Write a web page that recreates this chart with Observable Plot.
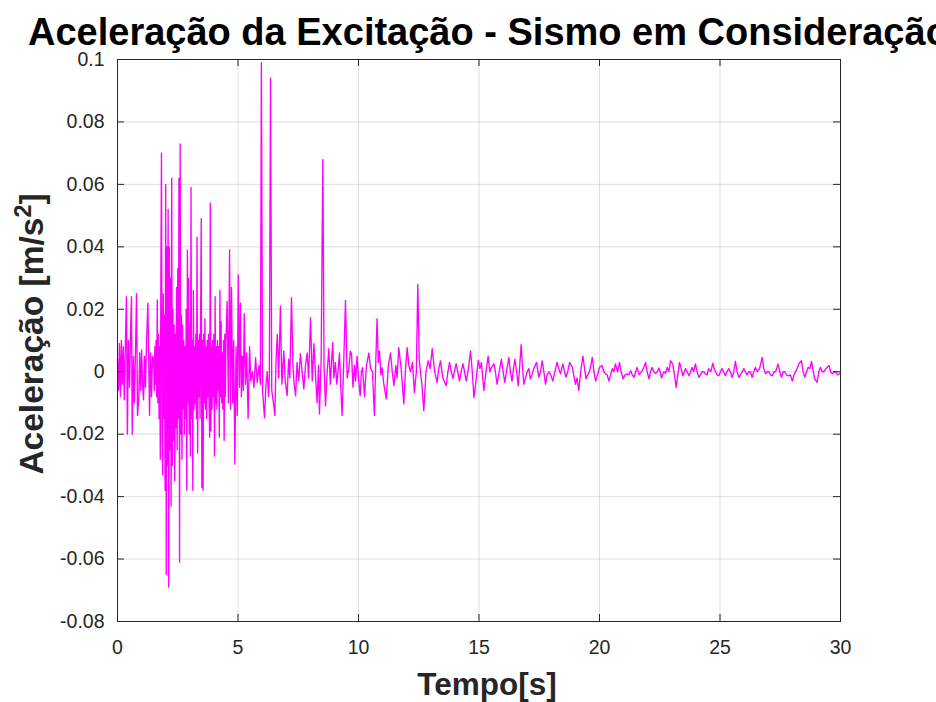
<!DOCTYPE html>
<html>
<head>
<meta charset="utf-8">
<script src="https://cdn.jsdelivr.net/npm/d3@7"></script>
<script src="https://cdn.jsdelivr.net/npm/@observablehq/plot@0.6"></script>
<style>
  html, body { margin: 0; padding: 0; background: white; }
  #chart { width: 936px; height: 702px; overflow: hidden; }
</style>
</head>
<body>
<div id="chart"></div>
<script>
// ---- data ----
const titleText = "Aceleração da Excitação - Sismo em Consideração";
const xLabel = "Tempo[s]";
const yLabelMain = "Aceleração [m/s";
const xTicks = [0, 5, 10, 15, 20, 25, 30];
const yTicks = [-0.08, -0.06, -0.04, -0.02, 0, 0.02, 0.04, 0.06, 0.08, 0.1];

// 0 – 1.45 s
const tempoInicio = [0.00,0.04,0.08,0.12,0.16,0.20,0.24,0.28,0.32,0.37,0.41,0.45,0.50,0.54,0.58,0.61,0.66,0.70,0.75,0.79,0.83,0.88,0.92,0.96,1.00,1.04,1.08,1.12,1.16,1.20,1.26,1.33,1.37,1.41,1.45];
const acelInicio  = [0.004,-0.006,0.009,-0.008,0.010,-0.004,0.008,-0.009,0.006,0.024,-0.020,0.010,-0.005,0.012,0.024,-0.020,0.005,-0.010,0.008,0.025,-0.014,-0.009,0.006,-0.006,0.007,-0.004,-0.009,0.005,-0.005,0.008,0.022,-0.014,0.006,-0.008,0.005];

// strong motion 1.5 – 4.475 s, sampled every 0.025 s
const denseStart = 1.5;
const denseStep = 0.025;
const acelForte = [
  0.004,-0.006,0.008,-0.004,0.010,-0.008,0.023,-0.010,0.012,-0.015,
  0.008,-0.028,0.030,0.070,-0.020,-0.033,0.025,-0.015,0.018,-0.038,
  0.060,-0.065,0.040,-0.030,0.052,-0.069,0.040,-0.025,0.030,-0.043,
  0.062,-0.030,0.020,-0.022,0.015,-0.035,0.012,-0.018,0.027,-0.025,
  0.033,-0.015,0.062,-0.061,0.073,-0.020,0.018,-0.028,0.015,-0.012,
  0.010,-0.020,0.008,-0.015,0.020,-0.038,0.039,-0.010,0.030,-0.020,
  0.015,-0.027,0.059,-0.015,0.010,-0.038,0.026,-0.012,0.008,-0.010,
  0.012,-0.015,0.043,-0.026,0.010,-0.008,0.012,-0.015,0.020,0.049,
  -0.037,0.010,-0.038,0.012,-0.010,0.017,-0.012,0.008,-0.015,0.010,
  -0.008,0.012,-0.010,-0.021,0.054,-0.019,0.008,-0.012,0.010,-0.008,
  0.012,-0.027,0.024,-0.010,0.008,-0.012,0.010,-0.006,0.008,-0.021,
  0.026,-0.008,0.016,-0.010,0.006,-0.012,0.010,-0.022,0.012,-0.008
];

// 4.5 – 30 s
const tempoFim = [4.50,4.55,4.60,4.65,4.69,4.73,4.78,4.82,4.87,4.92,4.97,5.01,5.06,5.10,5.14,5.18,5.22,5.26,5.31,5.36,5.42,5.48,5.53,5.60,5.66,5.73,5.80,5.87,5.93,5.97,6.02,6.10,6.16,6.21,6.27,6.30,6.35,6.40,6.47,6.53,6.58,6.63,6.69,6.76,6.82,6.90,6.96,7.04,7.10,7.15,7.22,7.28,7.33,7.39,7.45,7.52,7.59,7.66,7.73,7.80,7.87,7.93,8.01,8.08,8.15,8.21,8.28,8.34,8.38,8.45,8.52,8.57,8.63,8.70,8.77,8.83,8.88,8.93,8.98,9.04,9.10,9.16,9.21,9.27,9.32,9.39,9.46,9.53,9.60,9.66,9.71,9.77,9.83,9.88,9.94,10.00,10.07,10.12,10.17,10.25,10.33,10.43,10.50,10.58,10.66,10.72,10.77,10.82,10.87,10.93,10.98,11.05,11.15,11.24,11.33,11.40,11.47,11.55,11.60,11.67,11.77,11.88,11.95,12.02,12.09,12.16,12.24,12.32,12.40,12.46,12.52,12.57,12.63,12.71,12.80,12.89,12.97,13.06,13.16,13.26,13.33,13.40,13.50,13.64,13.71,13.78,13.85,13.92,14.05,14.12,14.19,14.26,14.33,14.40,14.47,14.56,14.65,14.72,14.79,14.86,14.97,15.04,15.10,15.20,15.29,15.38,15.45,15.52,15.62,15.68,15.75,15.84,15.93,16.00,16.07,16.16,16.24,16.30,16.37,16.43,16.49,16.56,16.63,16.69,16.75,16.80,16.86,16.93,17.00,17.07,17.13,17.20,17.27,17.39,17.48,17.55,17.62,17.69,17.76,17.83,17.90,17.98,18.06,18.15,18.24,18.31,18.38,18.48,18.55,18.61,18.68,18.76,18.87,18.93,19.00,19.07,19.14,19.22,19.31,19.38,19.44,19.51,19.58,19.64,19.70,19.77,19.84,19.92,20.00,20.10,20.18,20.25,20.32,20.39,20.46,20.53,20.60,20.66,20.75,20.83,20.90,20.97,21.06,21.15,21.22,21.29,21.36,21.43,21.50,21.56,21.65,21.74,21.82,21.91,21.98,22.05,22.12,22.18,22.25,22.32,22.40,22.46,22.52,22.57,22.62,22.67,22.74,22.81,22.88,22.95,23.04,23.11,23.18,23.25,23.32,23.39,23.46,23.52,23.57,23.64,23.71,23.78,23.84,23.91,23.98,24.05,24.12,24.19,24.26,24.33,24.39,24.46,24.53,24.62,24.70,24.76,24.81,24.88,24.95,25.02,25.08,25.15,25.22,25.29,25.36,25.43,25.50,25.57,25.64,25.71,25.78,25.85,25.92,25.99,26.05,26.12,26.19,26.26,26.33,26.40,26.47,26.55,26.64,26.75,26.82,26.89,26.96,27.03,27.10,27.17,27.24,27.31,27.41,27.48,27.55,27.62,27.69,27.76,27.83,27.92,28.00,28.07,28.13,28.20,28.27,28.38,28.45,28.52,28.59,28.66,28.73,28.80,28.87,28.93,29.03,29.10,29.17,29.24,29.31,29.40,29.52,29.59,29.66,29.73,29.80,29.88,29.97,30.00];
const acelFim = [0.010,0.0225,-0.010,0.039,-0.012,0.027,-0.010,0.010,-0.0296,0.008,-0.014,0.031,-0.005,0.022,-0.008,0.005,-0.006,0.0186,-0.004,0.006,-0.015,0.008,-0.003,0.000,-0.005,0.0045,-0.0035,0.002,-0.004,0.099,-0.006,-0.0148,-0.004,0.000,-0.008,-0.002,0.094,-0.006,-0.010,-0.014,0.004,0.012,-0.002,0.021,-0.004,0.0067,-0.003,-0.0077,0.004,-0.002,0.0237,0.002,-0.004,-0.0077,0.003,-0.003,0.0058,0.000,-0.0055,0.002,0.006,-0.002,0.0173,-0.003,0.009,0.000,-0.010,0.002,-0.0135,0.004,0.068,0.002,-0.011,0.000,0.0074,-0.004,0.003,0.0093,-0.002,0.003,-0.004,0.001,0.006,-0.006,-0.014,0.004,0.0228,-0.002,0.001,0.0066,0.0058,-0.005,0.002,-0.003,0.005,-0.002,-0.0077,0.000,0.0013,-0.008,0.002,0.006,0.001,0.000,-0.014,0.004,0.017,0.003,0.0067,-0.001,0.0013,-0.004,-0.0087,0.002,0.006,0.000,-0.0045,0.002,-0.002,0.0077,0.001,-0.0103,0.001,0.0077,0.002,0.000,0.003,-0.0067,0.000,0.028,0.004,0.000,-0.004,-0.0125,0.000,0.0035,0.001,0.0074,0.000,-0.0035,0.001,0.0035,-0.002,-0.0045,0.000,0.003,0.000,-0.0022,0.0026,0.000,-0.003,0.000,0.0026,0.000,-0.003,0.001,0.0067,0.000,-0.0083,-0.004,0.0037,0.001,0.003,-0.006,0.000,0.005,0.000,0.0014,0.0025,0.000,-0.004,0.000,0.004,0.000,-0.0034,0.001,0.0046,0.000,-0.003,0.001,0.004,0.000,-0.0045,0.002,0.0087,0.002,-0.004,-0.002,0.000,0.001,-0.0023,-0.001,0.001,0.003,-0.0018,0.000,0.0035,0.000,-0.004,-0.001,0.000,-0.001,-0.003,0.000,0.003,0.001,-0.0007,0.0025,0.000,-0.0018,0.000,0.003,0.0014,-0.001,-0.004,-0.002,-0.006,0.000,0.005,0.001,-0.0023,-0.001,0.000,0.002,0.0046,0.000,-0.003,-0.001,0.0014,0.002,0.000,-0.0007,-0.001,-0.003,-0.001,0.001,0.000,0.0025,0.000,0.003,0.000,-0.0023,-0.001,-0.0007,-0.001,0.0003,-0.001,-0.0018,0.000,0.0014,-0.001,0.000,0.001,0.003,0.000,-0.0023,0.000,0.0014,0.000,-0.0005,0.000,0.0012,0.000,-0.002,-0.001,0.000,-0.0005,0.0014,0.000,0.0035,0.0025,-0.001,-0.005,-0.001,0.003,0.001,-0.0013,0.000,0.001,0.000,-0.0013,0.000,0.0014,0.000,0.0025,0.000,-0.0018,-0.001,0.000,0.000,-0.0007,-0.001,0.001,0.000,0.0027,0.001,0.000,-0.001,-0.0013,0.000,0.001,0.000,-0.0013,0.000,0.001,0.000,-0.0018,0.000,0.0033,0.000,-0.0018,-0.001,0.000,0.001,0.000,-0.001,0.000,0.000,-0.0018,0.000,0.0014,0.000,0.001,0.0046,0.001,-0.0007,0.000,0.000,-0.001,-0.0013,0.000,0.000,0.0025,0.000,-0.0018,0.000,0.000,-0.001,-0.0013,-0.001,-0.003,-0.001,0.000,0.001,0.0025,0.0035,0.000,-0.0018,0.000,0.0014,0.001,0.0033,0.000,-0.0023,-0.0034,0.000,0.0014,0.000,0.000,0.001,0.002,0.000,-0.0007,0.000,0.000,-0.001,-0.0007,0.000];

// ---- build table ----
const serie = [];
tempoInicio.forEach((t, i) => serie.push({t, a: acelInicio[i]}));
acelForte.forEach((a, i) => serie.push({t: +(denseStart + i * denseStep).toFixed(3), a}));
tempoFim.forEach((t, i) => serie.push({t, a: acelFim[i]}));

const W = 936, H = 702;
const mL = 117, mR = 96, mT = 59, mB = 81;
const innerH = H - mT - mB, innerW = W - mL - mR;
const axisCol = "#262626";
const tickLen = 7;
const fmtY = d => String(+d.toFixed(2));

const plot = Plot.plot({
  width: W, height: H,
  marginLeft: mL, marginRight: mR, marginTop: mT, marginBottom: mB,
  style: {fontFamily: "'Liberation Sans', Arial, Helvetica, sans-serif", background: "white", color: axisCol, overflow: "visible"},
  x: {domain: [0, 30], ticks: xTicks},
  y: {domain: [-0.08, 0.1], ticks: yTicks},
  marks: [
    Plot.gridX(xTicks, {stroke: axisCol, strokeOpacity: 0.15, strokeWidth: 1}),
    Plot.gridY(yTicks, {stroke: axisCol, strokeOpacity: 0.15, strokeWidth: 1}),
    Plot.line(serie, {x: "t", y: "a", stroke: "#ff00ff", strokeWidth: 1.35}),
    Plot.tickX(xTicks, {x: d => d, insetTop: innerH - tickLen, stroke: axisCol}),
    Plot.tickX(xTicks, {x: d => d, insetBottom: innerH - tickLen, stroke: axisCol}),
    Plot.tickY(yTicks, {y: d => d, insetRight: innerW - tickLen, stroke: axisCol}),
    Plot.tickY(yTicks, {y: d => d, insetLeft: innerW - tickLen, stroke: axisCol}),
    Plot.frame({stroke: axisCol, strokeWidth: 1}),
    Plot.axisX(xTicks, {anchor: "bottom", tickSize: 0, tickPadding: 19, fontSize: 19.5, fill: axisCol, label: null}),
    Plot.axisY(yTicks, {anchor: "left", tickSize: 0, tickPadding: 13, fontSize: 19.5, fill: axisCol, tickFormat: fmtY, label: null})
  ]
});

document.getElementById("chart").appendChild(plot);

const svg = d3.select(plot);
const fam = "'Liberation Sans', Arial, sans-serif";
// title
svg.append("text")
  .attr("x", 28).attr("y", 45)
  .attr("text-anchor", "start")
  .attr("font-size", 38).attr("font-weight", "bold").attr("fill", "black")
  .attr("font-family", fam)
  .text(titleText);
// x label
svg.append("text")
  .attr("x", 487).attr("y", 695)
  .attr("text-anchor", "middle")
  .attr("font-size", 31.5).attr("font-weight", "bold").attr("fill", axisCol)
  .attr("font-family", fam)
  .text(xLabel);
// y label with superscript
const yl = svg.append("text")
  .attr("transform", `translate(43,334) rotate(-90)`)
  .attr("text-anchor", "middle")
  .attr("font-size", 33.5).attr("font-weight", "bold").attr("fill", axisCol)
  .attr("font-family", fam);
yl.append("tspan").text(yLabelMain);
yl.append("tspan").attr("font-size", "70%").attr("dy", "-0.5em").text("2");
yl.append("tspan").attr("dy", "0.35em").text("]");
</script>
</body>
</html>
